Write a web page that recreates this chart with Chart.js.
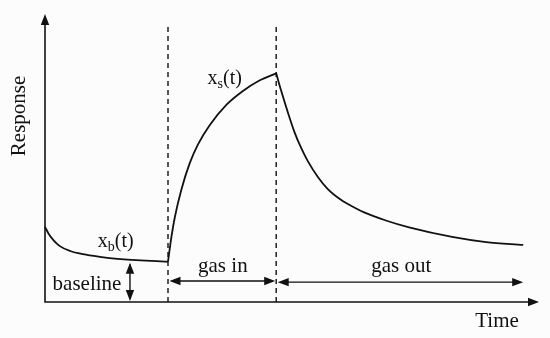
<!DOCTYPE html>
<html>
<head>
<meta charset="utf-8">
<script src="https://cdn.jsdelivr.net/npm/chart.js@4"></script>
<style>
  html, body { margin: 0; padding: 0; background: #fcfcfc; }
  #wrap { width: 550px; height: 338px; }
</style>
</head>
<body>
<div id="wrap"><canvas id="chart"></canvas></div>
<script>
// time (0-100) and response (0-100)
const baselineT = [0, 0.67, 1.7, 3.0, 5.1, 7.7, 11.1, 14.7, 24.9];
const baselineR = [26.1, 23.9, 21.5, 19.4, 17.7, 16.6, 15.7, 15.0, 14.0];
const gasInT = [24.9, 25.6, 26.3, 27.6, 29.3, 31.0, 33.3, 36.8, 40.0, 43.4, 46.8];
const gasInR = [14.0, 22.7, 29.6, 39.0, 48.2, 54.8, 61.3, 68.6, 73.2, 76.9, 79.4];
const gasOutT = [46.8, 47.8, 49.2, 50.5, 51.9, 53.2, 55.2, 57.2, 59.9, 62.6, 64.6, 69.0, 73.7, 82.4, 89.3, 96.8];
const gasOutR = [79.4, 73.4, 65.6, 59.0, 53.3, 48.9, 43.5, 39.3, 35.5, 32.8, 31.1, 28.3, 25.9, 22.6, 20.8, 19.8];

const switchT = [24.9, 46.8];      // gas on / gas off
const dashTop = 96.2;
const gasInSpan = [24.9, 46.8];
const gasOutSpan = [46.8, 96.8];
const spanLevel = [7.3, 6.9];
const baselineArrowT = 17.2;
const baselineLevel = 14.0;

const pts = (xs, ys) => xs.map((x, i) => ({x: x, y: ys[i]}));

const curve = {
  borderColor: '#111', borderWidth: 1.8, pointRadius: 0,
  cubicInterpolationMode: 'monotone', clip: false
};
const thin = { borderColor: '#111', borderWidth: 1.4, pointRadius: 0, clip: false };

const ctx = document.getElementById('chart').getContext('2d');

function arrowHead(c, x, y, dir) {
  // dir: angle in radians the tip points to
  const len = 11, half = 4.2;
  c.save();
  c.translate(x, y);
  c.rotate(dir);
  c.beginPath();
  c.moveTo(0, 0);
  c.lineTo(-len, -half);
  c.lineTo(-len, half);
  c.closePath();
  c.fill();
  c.restore();
}

function subText(c, main, sub, rest, x, y) {
  c.textAlign = 'left';
  c.textBaseline = 'alphabetic';
  c.font = '20px "Liberation Serif"';
  c.fillText(main, x, y);
  x += c.measureText(main).width;
  c.font = '14px "Liberation Serif"';
  c.fillText(sub, x, y + 4);
  x += c.measureText(sub).width;
  c.font = '20px "Liberation Serif"';
  c.fillText(rest, x, y);
}

const decorations = {
  id: 'decorations',
  afterDatasetsDraw(chart) {
    const c = chart.ctx;
    const xs = chart.scales.x, ys = chart.scales.y;
    const X = v => xs.getPixelForValue(v), Y = v => ys.getPixelForValue(v);
    const a = chart.chartArea;
    c.save();
    c.fillStyle = '#111';
    c.strokeStyle = '#111';
    c.lineWidth = 1.6;

    // axes
    c.beginPath();
    c.moveTo(a.left, a.top + 4);
    c.lineTo(a.left, a.bottom);
    c.lineTo(a.right - 4, a.bottom);
    c.stroke();
    arrowHead(c, a.left, a.top, -Math.PI / 2);
    arrowHead(c, a.right, a.bottom, 0);

    // span arrowheads
    arrowHead(c, X(gasInSpan[0]) + 1.5, Y(spanLevel[0]), Math.PI);
    arrowHead(c, X(gasInSpan[1]) - 1, Y(spanLevel[0]), 0);
    arrowHead(c, X(gasOutSpan[0]) + 1.5, Y(spanLevel[1]), Math.PI);
    arrowHead(c, X(gasOutSpan[1]), Y(spanLevel[1]), 0);
    arrowHead(c, X(baselineArrowT), Y(baselineLevel) + 1, -Math.PI / 2);
    arrowHead(c, X(baselineArrowT), Y(0) - 1, Math.PI / 2);

    // labels
    c.font = '21px "Liberation Serif"';
    c.textAlign = 'center';
    c.textBaseline = 'alphabetic';
    c.fillText('baseline', X(8.5), Y(4.2));
    c.fillText('gas in', X(36.0), Y(10.4));
    c.fillText('gas out', X(72.1), Y(10.4));
    c.fillText('Time', X(91.5), Y(-8.7));
    subText(c, 'x', 'b', '(t)', X(10.7), Y(19.1));
    subText(c, 'x', 's', '(t)', X(32.9), Y(75.7));

    c.translate(25, Y(64.6));
    c.rotate(-Math.PI / 2);
    c.font = '21px "Liberation Serif"';
    c.textAlign = 'center';
    c.fillText('Response', 0, 0);
    c.restore();
  }
};

new Chart(ctx, {
  type: 'line',
  data: {
    datasets: [
      Object.assign({ data: pts(baselineT, baselineR) }, curve),
      Object.assign({ data: pts(gasInT, gasInR) }, curve),
      Object.assign({ data: pts(gasOutT, gasOutR) }, curve),
      Object.assign({ data: [{x: switchT[0], y: 0}, {x: switchT[0], y: dashTop}], borderDash: [5, 4] }, thin),
      Object.assign({ data: [{x: switchT[1], y: 0}, {x: switchT[1], y: dashTop}], borderDash: [5, 4] }, thin),
      Object.assign({ data: [{x: gasInSpan[0] + 1, y: spanLevel[0]}, {x: gasInSpan[1] - 1, y: spanLevel[0]}] }, thin),
      Object.assign({ data: [{x: gasOutSpan[0] + 1, y: spanLevel[1]}, {x: gasOutSpan[1] - 1, y: spanLevel[1]}] }, thin),
      Object.assign({ data: [{x: baselineArrowT, y: 1}, {x: baselineArrowT, y: baselineLevel - 1}] }, thin)
    ]
  },
  options: {
    responsive: true,
    maintainAspectRatio: false,
    animation: false,
    layout: { padding: { left: 45, right: 11, top: 14, bottom: 36 } },
    plugins: { legend: { display: false }, tooltip: { enabled: false } },
    scales: {
      x: { type: 'linear', min: 0, max: 100, display: false },
      y: { type: 'linear', min: 0, max: 100, display: false }
    }
  },
  plugins: [decorations]
});
</script>
</body>
</html>
